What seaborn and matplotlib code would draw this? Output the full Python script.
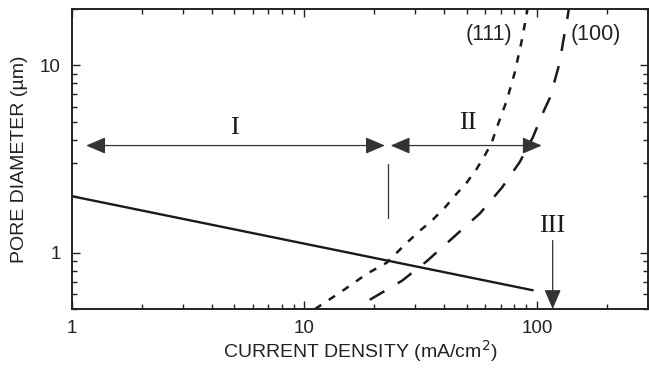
import numpy as np
import pandas as pd
import matplotlib
matplotlib.use("Agg")
import matplotlib.pyplot as plt
import seaborn as sns

# Pore diameter vs current density (log-log)
solid_x = [1.0, 96.0]
solid_y = [2.0, 0.63]

x111 = [11.1, 14.6, 18.6, 22.6, 27.6, 31.4, 35.3, 40.2, 45.3, 50.0, 55.2, 59.7,
        64.0, 67.3, 74.3, 80.4, 86.2, 90.6, 91.5]
y111 = [0.50, 0.626, 0.772, 0.884, 1.13, 1.31, 1.48, 1.74, 2.07, 2.37, 2.81, 3.30,
        3.87, 4.66, 6.50, 9.18, 13.6, 19.0, 21.0]

x100 = [19.1, 26.3, 33.6, 43.5, 56.9, 70.7, 84.5, 96.1, 106.0, 114.0, 119.5,
        125.6, 129.4, 136.0, 138.0]
y100 = [0.56, 0.708, 0.90, 1.20, 1.62, 2.22, 3.05, 4.12, 5.54, 6.74, 8.31,
        10.4, 13.1, 18.5, 21.0]

x_ticks = [1, 10, 100]
x_tick_labels = ["1", "10", "100"]
y_ticks = [1, 10]
y_tick_labels = ["1", "10"]

sns.set_theme(style="ticks")
plt.rcParams["font.family"] = ["Liberation Sans", "DejaVu Sans"]

fig = plt.figure(figsize=(6.49, 3.71), dpi=100)
ax = fig.add_axes([0.111, 0.167, 0.887, 0.809])

df = pd.concat([
    pd.DataFrame({"x": solid_x, "y": solid_y, "s": "solid"}),
    pd.DataFrame({"x": x111, "y": y111, "s": "111"}),
    pd.DataFrame({"x": x100, "y": y100, "s": "100"}),
])

ink = "#1a1a1a"
sns.lineplot(data=df[df.s == "solid"], x="x", y="y", ax=ax, color=ink, lw=1.7, sort=False)
sns.lineplot(data=df[df.s == "111"], x="x", y="y", ax=ax, color=ink, lw=1.8,
             sort=False, dashes=False, linestyle=(0, (3.0, 3.6)))
sns.lineplot(data=df[df.s == "100"], x="x", y="y", ax=ax, color=ink, lw=1.8,
             sort=False, dashes=False, linestyle=(0, (6.8, 6.2)))

ax.set_xscale("log")
ax.set_yscale("log")
ax.set_xlim(1, 300)
ax.set_ylim(0.5, 20)
ax.set_xticks(x_ticks)
ax.set_xticklabels(x_tick_labels)
ax.set_yticks(y_ticks)
ax.set_yticklabels(y_tick_labels)

ax.tick_params(which="both", direction="in", top=True, right=True, color="#222222")
ax.tick_params(which="major", length=6, width=1.0, labelsize=13.5, pad=8, labelcolor="#222222")
ax.tick_params(which="minor", length=3.5, width=1.0)
for sp in ax.spines.values():
    sp.set_linewidth(1.4)
    sp.set_color("#222222")

ax.set_xlabel("CURRENT DENSITY (mA/cm$^2$)", fontsize=14, color="#222222", labelpad=1)
ax.set_ylabel("PORE DIAMETER (\u00b5m)", fontsize=14, color="#222222", labelpad=9)

head = "head_length=0.75,head_width=0.32"
arrow_kw = dict(arrowstyle="<|-|>," + head, color="#333333", lw=0.9, mutation_scale=16,
                shrinkA=0, shrinkB=0)
ax.annotate("", xy=(1.15, 3.73), xytext=(22.2, 3.73), arrowprops=arrow_kw)
ax.annotate("", xy=(23.5, 3.73), xytext=(105, 3.73), arrowprops=arrow_kw)
ax.annotate("", xy=(117, 0.5), xytext=(117, 1.16),
            arrowprops=dict(arrowstyle="-|>," + head, color="#333333", lw=0.9,
                            mutation_scale=16, shrinkA=0, shrinkB=0))
ax.plot([22.9, 22.9], [1.54, 2.99], color="#333333", lw=0.9)

serif = dict(family=["Liberation Serif", "DejaVu Serif"], fontsize=19, color=ink,
             ha="center", va="center")
ax.text(5.0, 4.6, "I", **serif)
ax.text(50.5, 4.9, "II", **serif)
ax.text(117, 1.39, "III", **serif)

ax.text(62.2, 14.6, "(111)", fontsize=15.5, color="#222222", ha="center", va="center")
ax.text(179.5, 14.6, "(100)", fontsize=15.5, color="#222222", ha="center", va="center")

fig.savefig("out.png", dpi=100)
